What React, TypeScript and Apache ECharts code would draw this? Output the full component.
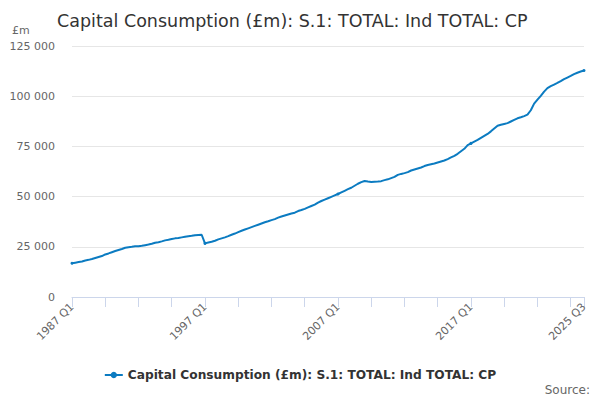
import React, { useEffect, useRef } from "react";
import * as echarts from "echarts";

const years: number[] = [];
for (let y = 1987; y <= 2025; y++) years.push(y);
const quarters = ["Q1", "Q2", "Q3", "Q4"];
const categories: string[] = [];
years.forEach((y) => {
  quarters.forEach((q) => {
    if (y === 2025 && q === "Q4") return;
    categories.push(`${y} ${q}`);
  });
});

const values: number[] = [
  16800, 17100, 17400, 17700,
  18200, 18500, 18900, 19400,
  19900, 20400, 21200, 21700,
  22300, 22900, 23400, 23900,
  24500, 24800, 25000, 25300,
  25300, 25500, 25800, 26100,
  26500, 27000, 27300, 27700,
  28200, 28500, 28900, 29200,
  29400, 29700, 30000, 30300,
  30500, 30800, 30900, 31000,
  26700, 27100, 27500, 28000,
  28700, 29200, 29700, 30300,
  31000, 31600, 32300, 33000,
  33600, 34200, 34800, 35400,
  36000, 36600, 37200, 37700,
  38300, 38800, 39500, 40100,
  40600, 41100, 41600, 42000,
  42800, 43300, 43900, 44600,
  45300, 46000, 47000, 47800,
  48500, 49200, 49900, 50600,
  51300, 52100, 52900, 53700,
  54400, 55400, 56400, 57200,
  57800, 57500, 57300, 57400,
  57500, 57700, 58200, 58600,
  59200, 59800, 60800, 61300,
  61700, 62200, 63000, 63500,
  64000, 64500, 65200, 65700,
  66100, 66500, 67000, 67500,
  68000, 68700, 69500, 70300,
  71300, 72600, 73800, 75600,
  76500, 77400, 78200, 79200,
  80200, 81200, 82500, 83900,
  85300, 85800, 86200, 86600,
  87400, 88200, 89000, 89500,
  90100, 90800, 93000, 96300,
  98300, 100200, 102300, 104000,
  105000, 105800, 106600, 107500,
  108500, 109300, 110100, 111000,
  111700, 112300, 112800,
];

const seriesName = "Capital Consumption (£m): S.1: TOTAL: Ind TOTAL: CP";
const titleText = "Capital Consumption (£m): S.1: TOTAL: Ind TOTAL: CP";
const yTicks = { min: 0, max: 125000, interval: 25000 };

const FONT = "DejaVu Sans, sans-serif";

export default function App() {
  const ref = useRef<HTMLDivElement>(null);
  useEffect(() => {
    document.body.style.margin = "0";
    if (!ref.current) return;
    const chart = echarts.init(ref.current, undefined, { renderer: "svg" });
    const last = categories.length - 1;
    chart.setOption({
      animation: false,
      textStyle: { fontFamily: FONT },
      title: {
        text: titleText,
        left: 52,
        top: 7,
        textStyle: { fontSize: 17.5, fontWeight: "normal", color: "#333333", fontFamily: FONT },
      },
      grid: { left: 72, right: 16, top: 46, bottom: 103 },
      legend: {
        top: 364,
        left: "center",
        itemWidth: 18,
        itemHeight: 8,
        itemGap: 5,
        textStyle: { fontSize: 12.2, fontWeight: "bold", color: "#333333", fontFamily: FONT },
        data: [seriesName],
      },
      xAxis: {
        type: "category",
        data: categories,
        boundaryGap: false,
        axisLine: { lineStyle: { color: "#ccd6eb" } },
        axisTick: {
          length: 10,
          lineStyle: { color: "#ccd6eb" },
          interval: (i: number) => i % 10 === 0 || i === last,
        },
        axisLabel: {
          rotate: 45,
          fontSize: 11,
          color: "#666666",
          margin: 8,
          interval: (i: number) => i % 40 === 0 || i === last,
          fontFamily: FONT,
        },
      },
      yAxis: {
        type: "value",
        min: yTicks.min,
        max: yTicks.max,
        interval: yTicks.interval,
        axisLine: { show: false },
        axisTick: { show: false },
        splitLine: { lineStyle: { color: "#e6e6e6" } },
        axisLabel: {
          fontSize: 11,
          color: "#666666",
          margin: 17,
          fontFamily: FONT,
          formatter: (v: number) => String(v).replace(/\B(?=(\d{3})+(?!\d))/g, " "),
        },
      },
      graphic: [
        {
          type: "text",
          left: 12,
          top: 25,
          style: { text: "£m", fontSize: 11, fill: "#666666", fontFamily: FONT },
        },
        {
          type: "text",
          right: 10,
          top: 384,
          style: { text: "Source:", fontSize: 12, fill: "#666666", fontFamily: FONT },
        },
      ],
      series: [
        {
          name: seriesName,
          type: "line",
          data: values,
          color: "#0b7bc1",
          lineStyle: { width: 2 },
          symbol: "circle",
          symbolSize: 3,
          showSymbol: true,
        },
      ],
    });
    return () => chart.dispose();
  }, []);
  return <div ref={ref} style={{ width: 600, height: 400 }} />;
}
